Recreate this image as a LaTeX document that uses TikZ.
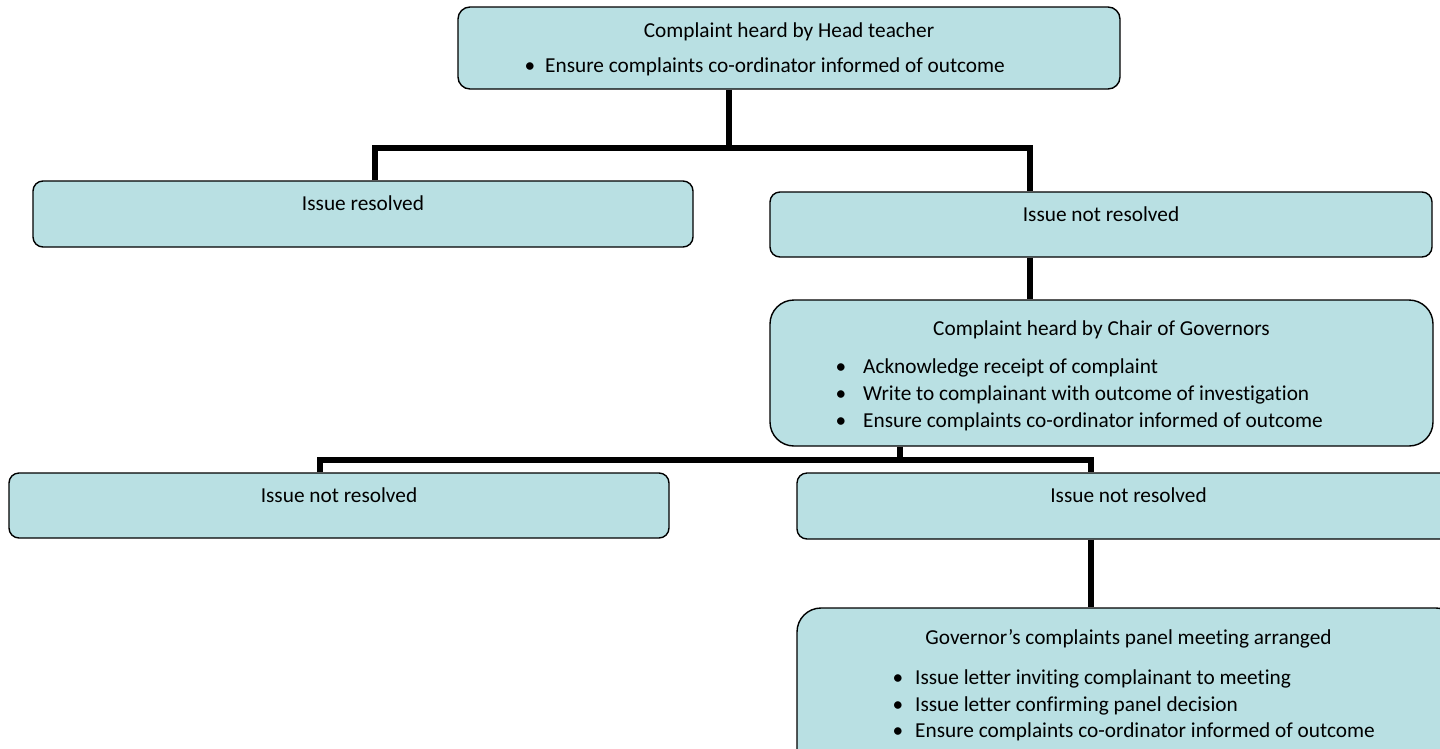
\documentclass[tikz,border=0pt]{standalone}
\usepackage{fontspec}
\setmainfont[Ligatures=NoCommon]{Carlito}
\definecolor{boxfill}{HTML}{B9E0E3}
\begin{document}
\begin{tikzpicture}[x=1pt,y=-1pt,
  box/.style={draw=black, line width=1.4pt, fill=boxfill, inner sep=0pt, rounded corners=#1},
  box/.default=10pt,
  lbl/.style={font=\fontsize{21.3}{25}\selectfont, inner sep=0pt, anchor=base},
  itm/.style={font=\fontsize{21.3}{25}\selectfont, inner sep=0pt, anchor=base west},
  bul/.style={font=\fontsize{21.3}{25}\selectfont, inner sep=0pt, anchor=base},
  conn/.style={line width=5.5pt, line join=miter}]
\useasboundingbox (0,0) rectangle (1440,748);
\clip (0,0) rectangle (1440,748);

% boxes
\node[box=12pt, minimum width=662pt, minimum height=82pt] (head) at (789,48) {};
\node[box=10pt, minimum width=660pt, minimum height=66pt] (res) at (363,214) {};
\node[box=10pt, minimum width=662pt, minimum height=65pt] (nres1) at (1101,224.5) {};
\node[box=24pt, minimum width=663pt, minimum height=146pt] (chair) at (1101.5,373) {};
\node[box=10pt, minimum width=660pt, minimum height=65pt] (nres2) at (339,505.5) {};
\node[box=10pt, minimum width=663pt, minimum height=66pt] (nres3) at (1128.5,506) {};
\node[box=24pt, minimum width=663pt, minimum height=167pt] (gov) at (1128.5,691.5) {};

% connectors
\coordinate (j1) at (729,148);
\coordinate (jl) at (375,148);
\coordinate (jr) at (1030,148);
\coordinate (j2) at (900,460);
\coordinate (kl) at (320,460);
\coordinate (kr) at (1091,460);
\draw[conn] (head.south -| j1) -- (j1);
\draw[conn] (res.north -| jl) -- (jl) -- (jr) -- (nres1.north -| jr);
\draw[conn] (nres1.south -| jr) -- (chair.north -| jr);
\draw[conn] (chair.south -| j2) -- (j2);
\draw[conn] (nres2.north -| kl) -- (kl) -- (kr) -- (nres3.north -| kr);
\draw[conn] (nres3.south -| kr) -- (gov.north -| kr);

% texts
\node[lbl] (t1) at (789,37.5) {Complaint heard by Head teacher};
\node[bul] (b11) at (530,72) {•};
\node[itm] (i11) at (545,72) {Ensure complaints co-ordinator informed of outcome};

\node[lbl] (t2) at (363,210) {Issue resolved};
\node[lbl] (t3) at (1101,221) {Issue not resolved};

\node[lbl] (t4) at (1101.5,335) {Complaint heard by Chair of Governors};
\node[bul] (b41) at (841,373) {•};
\node[itm] (i41) at (863,373) {Acknowledge receipt of complaint};
\node[bul] (b42) at (841,400) {•};
\node[itm] (i42) at (863,400) {Write to complainant with outcome of investigation};
\node[bul] (b43) at (841,427) {•};
\node[itm] (i43) at (863,427) {Ensure complaints co-ordinator informed of outcome};

\node[lbl] (t5) at (339,502) {Issue not resolved};
\node[lbl] (t6) at (1128.5,502) {Issue not resolved};

\node[lbl] (t7) at (1128.5,644) {Governor’s complaints panel meeting arranged};
\node[bul] (b71) at (898,684) {•};
\node[itm] (i71) at (915,684) {Issue letter inviting complainant to meeting};
\node[bul] (b72) at (898,711) {•};
\node[itm] (i72) at (915,711) {Issue letter confirming panel decision};
\node[bul] (b73) at (898,737) {•};
\node[itm] (i73) at (915,737) {Ensure complaints co-ordinator informed of outcome};
\end{tikzpicture}
\end{document}
